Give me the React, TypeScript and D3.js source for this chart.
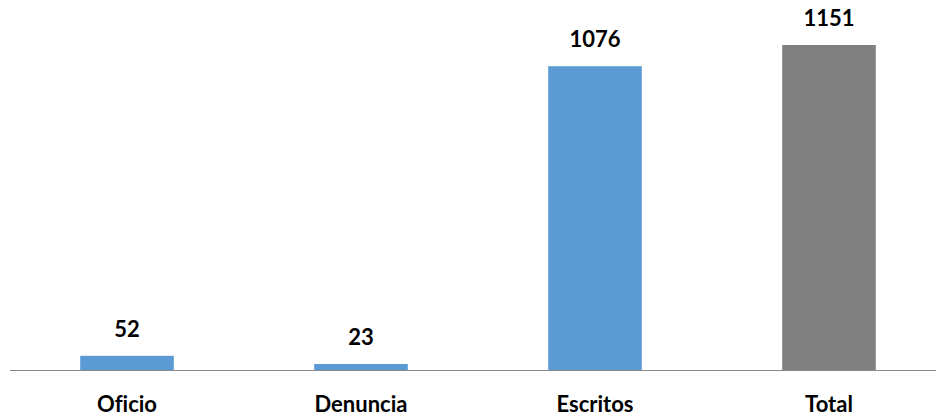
import React from "react";
import * as d3 from "d3";

const categories = ["Oficio", "Denuncia", "Escritos", "Total"];
const values = [52, 23, 1076, 1151];
const colors = ["#5b9bd5", "#5b9bd5", "#5b9bd5", "#808080"];

const W = 936;
const H = 417;
const left = 10;
const baseline = 370.5;
const top = 45;

export default function App() {
  const x = d3
    .scaleBand<string>()
    .domain(categories)
    .range([left, left + W])
    .paddingInner(0.6)
    .paddingOuter(0.3);
  const y = d3.scaleLinear().domain([0, 1151]).range([baseline, top]);
  const font = "Lato, 'Liberation Sans', sans-serif";
  const textStyle = { fontVariantLigatures: "none" as const };
  return (
    <svg
      width={W}
      height={H}
      style={{ position: "absolute", left: 0, top: 0, background: "#fff" }}
    >
      {categories.map((c, i) => {
        const bx = x(c)!;
        const by = y(values[i]);
        return (
          <g key={c}>
            <rect
              x={bx}
              y={by}
              width={x.bandwidth()}
              height={baseline - by}
              fill={colors[i]}
            />
            <text
              x={bx + x.bandwidth() / 2}
              y={by - 19}
              textAnchor="middle"
              fontFamily={font}
              fontWeight="bold"
              fontSize={22}
              fill="#000"
              style={textStyle}
            >
              {values[i]}
            </text>
            <text
              x={bx + x.bandwidth() / 2}
              y={412}
              textAnchor="middle"
              fontFamily={font}
              fontWeight="bold"
              fontSize={22}
              fill="#000"
              style={textStyle}
            >
              {c}
            </text>
          </g>
        );
      })}
      <line
        x1={left}
        x2={W}
        y1={baseline}
        y2={baseline}
        stroke="#898989"
        strokeWidth={1}
      />
    </svg>
  );
}
